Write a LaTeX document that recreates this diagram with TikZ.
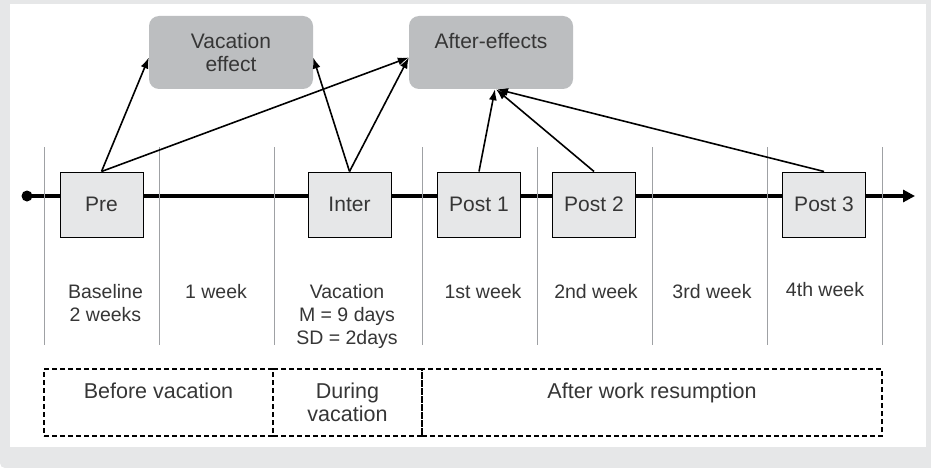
\documentclass[tikz,border=0pt]{standalone}
\usepackage{fontspec}
\setmainfont{Liberation Sans}
\usetikzlibrary{arrows.meta,positioning}
\definecolor{bggray}{HTML}{E6E7E8}
\definecolor{effgray}{HTML}{BCBEC0}
\definecolor{sepgray}{HTML}{9FA1A4}
\definecolor{txtgray}{HTML}{363636}

\begin{document}
\begin{tikzpicture}[x=1pt,y=-1pt]

\tikzset{
  wave/.style={draw=black, fill=bggray, line width=1pt, minimum width=83pt,
    minimum height=65pt, inner sep=0pt, text=txtgray,
    font=\fontsize{21}{23}\selectfont},
  effect/.style={fill=effgray, rounded corners=10pt, minimum width=164pt,
    minimum height=73pt, inner sep=0pt, align=center, text=txtgray,
    font=\fontsize{21}{23}\selectfont},
  period/.style={anchor=north, inner sep=0pt, align=center, text=txtgray,
    font=\fontsize{19.5}{23}\selectfont},
  phase/.style={draw=black, dash pattern=on 5pt off 3pt, line width=1.2pt,
    minimum height=67pt, inner sep=0pt, align=center, text=txtgray,
    font=\fontsize{21.5}{23.5}\selectfont},
  link/.style={line width=1.6pt, -{Latex[length=11pt,width=8pt]}}
}

\useasboundingbox (0,0) rectangle (931,468);
\fill[bggray] (0,0) -- (931,0) -- (931,468) [rounded corners=5pt] -- (0,468)
  [sharp corners] -- (0,0) -- cycle;
\fill[white] (10,4) rectangle (926,447);

\coordinate (start) at (27,196);
\coordinate (end) at (915,196);
\draw[line width=4pt, -{Triangle[length=12pt,width=12pt]}] (start) -- (end);
\fill (start) circle (5.5pt);

\foreach \x in {44,159,274,422,537,652,767,882}
  \draw[sepgray, line width=1pt] (\x,147) -- (\x,345);

\node[wave] (pre) at (101.5,204.5) {Pre};
\node[wave] (inter) at (349.5,204.5) {Inter};
\node[wave] (post1) at (479,204.5) {Post 1};
\node[wave] (post2) at (594,204.5) {Post 2};
\node[wave] (post3) at (824,204.5) {Post 3};

\node[effect] (vaceff) at (231,52.5) {Vacation\\effect};
\node[effect] (aftereff) at (491,52.5) {After-effects\\\mbox{}};

\draw[link] (pre.north) -- ([yshift=-5pt]vaceff.west);
\draw[link] (pre.north) -- ([yshift=-5pt]aftereff.west);
\draw[link] (inter.north) -- ([yshift=-5pt]vaceff.east);
\draw[link] (inter.north) -- ([yshift=-5pt]aftereff.west);
\draw[link] (post1.north) -- ([xshift=4pt]aftereff.south);
\draw[link] (post2.north) -- ([xshift=5pt]aftereff.south);
\draw[link] (post3.north) -- ([xshift=6pt]aftereff.south);

\node[period] (baseline) at (105.5,284) {Baseline\\2 weeks};
\node[period] (week0) at (216,284) {1 week};
\node[period] (vacation) at (347,284) {Vacation\\M = 9 days\\SD = 2days};
\node[period] (week1) at (483,284) {1st week};
\node[period] (week2) at (596,284) {2nd week};
\node[period] (week3) at (712,284.5) {3rd week};
\node[period] (week4) at (825,282.5) {4th week};

\node[phase, minimum width=229pt] (before) at (158.5,402.5) {Before vacation\\\mbox{}};
\node[phase, minimum width=149pt] (during) at (347.5,402.5) {During\\vacation};
\node[phase, minimum width=460pt] (afterwork) at (652,402.5) {After work resumption\\\mbox{}};

\end{tikzpicture}
\end{document}
